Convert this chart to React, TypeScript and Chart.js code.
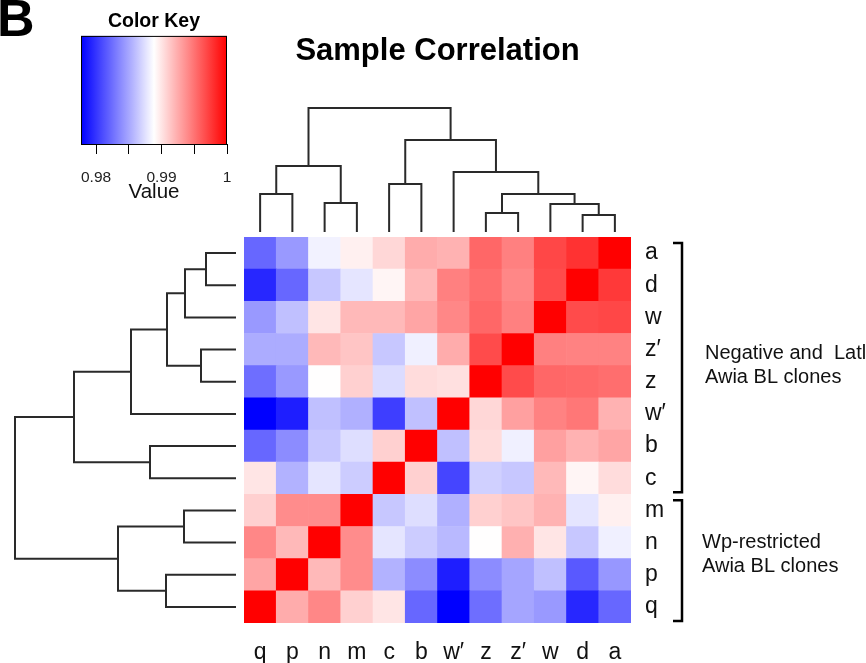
import React, { useEffect, useRef } from 'react';
import { Chart, registerables } from 'chart.js';
Chart.register(...registerables);

const FONT = "'Liberation Sans', Arial, Helvetica, sans-serif";

// ---- Data ----
// Columns (left -> right) and rows (top -> bottom) in dendrogram order
const colLabels = ['q', 'p', 'n', 'm', 'c', 'b', 'w′', 'z', 'z′', 'w', 'd', 'a'];
const rowLabels = ['a', 'd', 'w', 'z′', 'z', 'w′', 'b', 'c', 'm', 'n', 'p', 'q'];

// Sample correlation values, one array per row, columns in colLabels order
const rowA = [0.9822, 0.9844, 0.9883, 0.9895, 0.9906, 0.9925, 0.9922, 0.9955, 0.9944, 0.9969, 0.9978, 1.0];
const rowD = [0.9794, 0.9822, 0.9864, 0.9877, 0.9893, 0.9919, 0.9944, 0.9952, 0.9941, 0.9967, 1.0, 0.9975];
const rowW = [0.9844, 0.9861, 0.99, 0.9919, 0.9919, 0.9928, 0.9941, 0.9955, 0.9944, 1.0, 0.9967, 0.9969];
const rowZp = [0.9852, 0.9852, 0.9919, 0.9914, 0.9864, 0.9882, 0.9925, 0.9967, 1.0, 0.9944, 0.9943, 0.9943];
const rowZ = [0.9825, 0.9844, 0.9889, 0.9909, 0.9873, 0.9904, 0.9902, 1.0, 0.9967, 0.9955, 0.9954, 0.9952];
const rowWp = [0.9777, 0.979, 0.9861, 0.9854, 0.9804, 0.9861, 1.0, 0.9906, 0.993, 0.9943, 0.9948, 0.9922];
const rowB = [0.9822, 0.9838, 0.9864, 0.9874, 0.9909, 1.0, 0.9861, 0.9904, 0.9882, 0.993, 0.9922, 0.9928];
const rowC = [0.99, 0.9855, 0.9877, 0.9866, 1.0, 0.9909, 0.9807, 0.9868, 0.9864, 0.9919, 0.9893, 0.9904];
const rowM = [0.9909, 0.9939, 0.9939, 1.0, 0.9864, 0.9874, 0.9854, 0.9909, 0.9914, 0.9922, 0.9877, 0.9895];
const rowN = [0.9941, 0.9919, 1.0, 0.9939, 0.9877, 0.9866, 0.9858, 0.9889, 0.9923, 0.99, 0.9864, 0.9882];
const rowP = [0.9928, 1.0, 0.9919, 0.9939, 0.9855, 0.9838, 0.979, 0.9838, 0.9849, 0.9861, 0.9816, 0.9843];
const rowQ = [1.0, 0.9925, 0.9941, 0.9909, 0.99, 0.9822, 0.9777, 0.9825, 0.9849, 0.9844, 0.9794, 0.9822];
const corrRows = [rowA, rowD, rowW, rowZp, rowZ, rowWp, rowB, rowC, rowM, rowN, rowP, rowQ];

// Colour key
const keyMin = 0.9777;
const keyMax = 1.0;
const keyTicks = [0.98, 0.985, 0.99, 0.995, 1.0];
const keyTickLabels = ['0.98', '', '0.99', '', '1'];

// Dendrogram merges: [left, right, height]; negative = leaf (1-based), positive = earlier merge (1-based)
const colMerges: number[][] = [
  [-11, -12, 17],
  [-8, -9, 19],
  [-10, 1, 28],
  [-3, -4, 29],
  [-1, -2, 38],
  [2, 3, 38],
  [-5, -6, 48],
  [-7, 6, 60],
  [5, 4, 66],
  [7, 8, 92],
  [9, 10, 124],
];
const rowMerges: number[][] = [
  [-1, -2, 30],
  [-4, -5, 35],
  [1, -3, 51],
  [-9, -10, 52],
  [3, 2, 69],
  [-11, -12, 70],
  [-7, -8, 86],
  [5, -6, 105],
  [4, 6, 118],
  [8, 7, 162],
  [10, 9, 221],
];

const groupLines = [
  ['Negative and  Latl', 'Awia BL clones'],
  ['Wp-restricted', 'Awia BL clones'],
];
const groupFirstRow = ['a', 'm'];
const groupLastRow = ['c', 'q'];

// ---- Styles ----
const LINE = '#2a2a2a';
const groupLabelDy = [-2, -6];
const groupLabelDx = [23, 20];

function valueColor(v: number) {
  const t = Math.min(1, Math.max(0, (v - keyMin) / (keyMax - keyMin)));
  if (t < 0.5) {
    const c = Math.round((255 * t) / 0.5);
    return `rgb(${c},${c},255)`;
  }
  const c = Math.round((255 * (1 - t)) / 0.5);
  return `rgb(255,${c},${c})`;
}

function dendroSegments(merges: number[][]) {
  const pos: number[] = [];
  const hts: number[] = [];
  const segs: { p: number; h: number }[][] = [];
  const node = (id: number) => (id < 0 ? { p: -id - 1 + 0.5, h: 0 } : { p: pos[id - 1], h: hts[id - 1] });
  merges.forEach(([l, r, h], i) => {
    const a = node(l);
    const b = node(r);
    segs.push([
      { p: a.p, h: a.h },
      { p: a.p, h },
      { p: b.p, h },
      { p: b.p, h: b.h },
    ]);
    pos[i] = (a.p + b.p) / 2;
    hts[i] = h;
  });
  return segs;
}

function lineDataset(data: { x: number; y: number }[]) {
  return {
    data,
    showLine: true,
    borderColor: LINE,
    borderWidth: 2,
    pointRadius: 0,
    tension: 0,
    clip: false as any,
    borderCapStyle: 'square' as any,
  };
}

const common: any = {
  responsive: false,
  animation: false,
  devicePixelRatio: 1,
  events: [],
};

function zeroPad(s: any) {
  s.paddingTop = 0;
  s.paddingBottom = 0;
  s.paddingLeft = 0;
  s.paddingRight = 0;
}

function useChart(ref: React.RefObject<HTMLCanvasElement>, make: () => any) {
  useEffect(() => {
    const chart = new Chart(ref.current as HTMLCanvasElement, make());
    return () => chart.destroy();
  }, []);
}

function ColorKey() {
  const ref = useRef<HTMLCanvasElement>(null);
  useChart(ref, () => ({
    type: 'scatter',
    data: { datasets: [] },
    options: {
      ...common,
      layout: { padding: { left: 81, right: 13, top: 0, bottom: 0 } },
      plugins: {
        legend: { display: false },
        tooltip: { enabled: false },
        title: {
          display: true,
          text: 'Color Key',
          color: '#000',
          font: { family: FONT, size: 19.5, weight: 'bold' },
          padding: { top: 10, bottom: 2.5 },
        },
      },
      scales: {
        x: {
          type: 'linear',
          min: keyMin,
          max: keyMax,
          afterBuildTicks: (s: any) => {
            s.ticks = keyTicks.map((v) => ({ value: v }));
          },
          afterFit: (s: any) => {
            s.height = 66;
            zeroPad(s);
          },
          ticks: {
            autoSkip: false,
            maxRotation: 0,
            padding: 14,
            color: '#222',
            font: { family: FONT, size: 15.5 },
            callback: (v: number) => keyTickLabels[keyTicks.findIndex((k) => Math.abs(k - v) < 1e-9)] ?? '',
          },
          grid: { display: true, drawOnChartArea: false, drawTicks: true, tickLength: 10, color: '#000', lineWidth: 1 },
          border: { display: false },
          title: {
            display: true,
            text: 'Value',
            color: '#111',
            font: { family: FONT, size: 20.5 },
            padding: { top: 0, bottom: 5.5 },
          },
        },
        y: { display: false, min: 0, max: 1 },
      },
    },
    plugins: [
      {
        id: 'keyfill',
        beforeDatasetsDraw(chart: any) {
          const { ctx, chartArea: a, scales } = chart;
          const x0 = scales.x.getPixelForValue(keyMin);
          const x1 = scales.x.getPixelForValue(keyMax);
          const g = ctx.createLinearGradient(x0, 0, x1, 0);
          for (let k = 0; k <= 20; k++) g.addColorStop(k / 20, valueColor(keyMin + ((keyMax - keyMin) * k) / 20));
          ctx.save();
          ctx.fillStyle = g;
          ctx.fillRect(a.left, a.top, a.right - a.left, a.bottom - a.top);
          ctx.strokeStyle = '#000';
          ctx.lineWidth = 1;
          ctx.strokeRect(a.left + 0.5, a.top + 0.5, a.right - a.left - 1, a.bottom - a.top);
          ctx.restore();
        },
        afterDraw(chart: any) {
          const { ctx } = chart;
          ctx.save();
          ctx.fillStyle = '#000';
          ctx.font = `bold 52px ${FONT}`;
          ctx.textBaseline = 'alphabetic';
          ctx.fillText('B', -3, 36);
          ctx.restore();
        },
      },
    ],
  }));
  return <canvas ref={ref} width={240} height={210} style={{ position: 'absolute', left: 0, top: 0 }} />;
}

function TopDendro() {
  const ref = useRef<HTMLCanvasElement>(null);
  useChart(ref, () => ({
    type: 'scatter',
    data: {
      datasets: dendroSegments(colMerges).map((s) => lineDataset(s.map((pt) => ({ x: pt.p, y: pt.h })))),
    },
    options: {
      ...common,
      plugins: {
        legend: { display: false },
        tooltip: { enabled: false },
        title: {
          display: true,
          text: 'Sample Correlation',
          color: '#000',
          font: { family: FONT, size: 31, weight: 'bold' },
          padding: { top: 32.4, bottom: 30.4 },
        },
      },
      scales: {
        x: { type: 'linear', display: false, min: 0, max: colLabels.length },
        y: { type: 'linear', display: false, min: 0, max: 132 },
      },
    },
  }));
  return <canvas ref={ref} width={387} height={232} style={{ position: 'absolute', left: 244, top: 0 }} />;
}

function LeftDendro() {
  const ref = useRef<HTMLCanvasElement>(null);
  useChart(ref, () => ({
    type: 'scatter',
    data: {
      datasets: dendroSegments(rowMerges).map((s) => lineDataset(s.map((pt) => ({ x: pt.h, y: pt.p })))),
    },
    options: {
      ...common,
      plugins: { legend: { display: false }, tooltip: { enabled: false } },
      scales: {
        x: { type: 'linear', display: false, min: 0, max: 236, reverse: true },
        y: { type: 'linear', display: false, min: 0, max: rowLabels.length, reverse: true },
      },
    },
  }));
  return <canvas ref={ref} width={236} height={386} style={{ position: 'absolute', left: 0, top: 237 }} />;
}

function Heatmap() {
  const ref = useRef<HTMLCanvasElement>(null);
  const n = rowLabels.length;
  useChart(ref, () => ({
    type: 'bar',
    data: {
      labels: colLabels,
      datasets: corrRows
        .map((row, r) => ({
          label: rowLabels[r],
          data: row.map(() => 1),
          backgroundColor: row.map(valueColor),
          borderWidth: 0,
          barPercentage: 1,
          categoryPercentage: 1,
        }))
        .reverse(),
    },
    options: {
      ...common,
      layout: { padding: 0 },
      plugins: { legend: { display: false }, tooltip: { enabled: false } },
      scales: {
        x: {
          stacked: true,
          position: 'bottom',
          afterFit: (s: any) => {
            s.height = 40;
            zeroPad(s);
          },
          grid: { display: false, drawTicks: false },
          border: { display: false },
          ticks: { padding: 16, color: '#111', font: { family: FONT, size: 23 }, autoSkip: false, maxRotation: 0 },
        },
        y: {
          stacked: true,
          position: 'right',
          min: 0,
          max: n,
          afterFit: (s: any) => {
            s.width = 235;
            zeroPad(s);
          },
          afterBuildTicks: (s: any) => {
            s.ticks = rowLabels.map((_, i) => ({ value: n - 0.5 - i }));
          },
          grid: { display: false, drawTicks: false },
          border: { display: false },
          ticks: {
            autoSkip: false,
            padding: 14,
            color: '#111',
            font: { family: FONT, size: 23 },
            callback: (v: number) => rowLabels[n - 1 - Math.floor(v)],
          },
        },
      },
    },
    plugins: [
      {
        id: 'groups',
        afterDraw(chart: any) {
          const { ctx, chartArea: area, scales } = chart;
          const ys = scales.y;
          ctx.save();
          groupLines.forEach((lines, gi) => {
            const i0 = rowLabels.indexOf(groupFirstRow[gi]);
            const i1 = rowLabels.indexOf(groupLastRow[gi]);
            const top = ys.getPixelForValue(n - i0) + 6;
            const bottom = ys.getPixelForValue(n - 1 - i1) - 2;
            const bx = area.right + 51;
            ctx.strokeStyle = '#000';
            ctx.lineWidth = 2.5;
            ctx.beginPath();
            ctx.moveTo(bx - 9, top);
            ctx.lineTo(bx, top);
            ctx.lineTo(bx, bottom);
            ctx.lineTo(bx - 9, bottom);
            ctx.stroke();
            ctx.fillStyle = '#111';
            ctx.font = `20px ${FONT}`;
            ctx.textBaseline = 'middle';
            ctx.textAlign = 'left';
            const mid = (top + bottom) / 2 + groupLabelDy[gi];
            const lh = 23.5;
            lines.forEach((t, li) => {
              ctx.fillText(t, bx + groupLabelDx[gi], mid + (li - (lines.length - 1) / 2) * lh);
            });
          });
          ctx.restore();
        },
      },
    ],
  }));
  return <canvas ref={ref} width={622} height={426} style={{ position: 'absolute', left: 244, top: 237 }} />;
}

export default function App() {
  return (
    <div style={{ position: 'fixed', left: 0, top: 0, width: 866, height: 663, background: '#fff', overflow: 'hidden' }}>
      <ColorKey />
      <TopDendro />
      <LeftDendro />
      <Heatmap />
    </div>
  );
}
